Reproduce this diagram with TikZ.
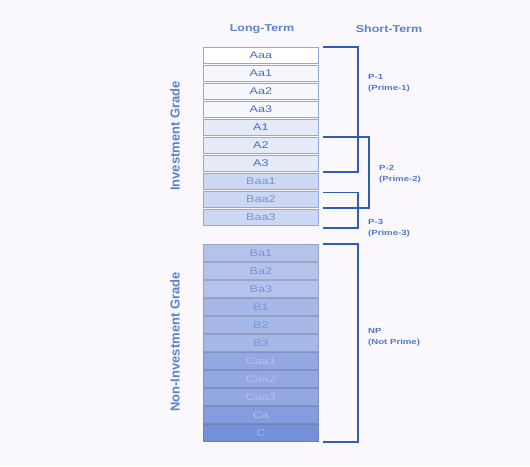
\documentclass[tikz,border=0pt]{standalone}
\usepackage{fontspec}
\setmainfont{Liberation Sans}
\newcommand{\wrow}[1]{\scalebox{1.3}[1]{#1}}
\newcommand{\wbr}[1]{\scalebox{1.3}[1]{#1}}
\newcommand{\whdr}[1]{\scalebox{1.25}[1]{#1}}
\definecolor{bg}{HTML}{FAF8FC}
\definecolor{brk}{HTML}{2E5DB2}
\definecolor{hdr}{HTML}{5A82D2}
\definecolor{lbl}{HTML}{5079CC}
\definecolor{edge}{HTML}{8FA8E0}
\definecolor{cA}{HTML}{FFFFFF}
\definecolor{cB}{HTML}{F5F7FD}
\definecolor{cC}{HTML}{E4EAF8}
\definecolor{cD}{HTML}{CCD7F2}
\definecolor{cE}{HTML}{B4C3EC}
\definecolor{cF}{HTML}{A6B8E8}
\definecolor{cG}{HTML}{93A8E2}
\definecolor{cH}{HTML}{859CDE}
\definecolor{cI}{HTML}{7490D8}
\definecolor{tA}{HTML}{4A70C4}
\definecolor{tB}{HTML}{7893D6}
\definecolor{tC}{HTML}{7B93D6}
\definecolor{tD}{HTML}{7F96D8}
\definecolor{tE}{HTML}{B0C0EC}
\definecolor{tF}{HTML}{A3B5E8}
\tikzset{
  row/.style={draw=edge, line width=0.8pt, minimum width=115pt, minimum height=16pt,
    inner sep=0pt, font=\fontsize{9.7}{10}\selectfont, anchor=north west},
  lrow/.style={row, minimum height=17pt, draw=#1!80!black!90!white},
  brline/.style={draw=brk, line width=1.8pt},
  hdrtext/.style={text=hdr, font=\bfseries\fontsize{10}{11}\selectfont},
  sidetext/.style={text=hdr, font=\bfseries\fontsize{13}{14}\selectfont, rotate=90},
  brtext/.style={text=lbl, font=\bfseries\fontsize{7.4}{11.5}\selectfont, anchor=west, align=left, inner sep=0pt}
}
\begin{document}
\begin{tikzpicture}[x=1pt,y=-1pt]
\fill[bg] (0,0) rectangle (530,466);
\useasboundingbox (0,0) rectangle (530,466);

% headers
\node[hdrtext] (hl) at (262,29) {\whdr{Long-Term}};
\node[hdrtext] (hs) at (389,29) {\whdr{Short-Term}};
\node[sidetext] (ig) at (175,136) {Investment Grade};
\node[sidetext] (nig) at (175,342) {Non-Investment Grade};

% investment grade rows
\node[row, fill=cA, text=tA] (Aaa)  at (203,47)  {\wrow{Aaa}};
\node[row, fill=cB, text=tA] (Aa1)  at (203,65)  {\wrow{Aa1}};
\node[row, fill=cB, text=tA] (Aa2)  at (203,83)  {\wrow{Aa2}};
\node[row, fill=cB, text=tA] (Aa3)  at (203,101) {\wrow{Aa3}};
\node[row, fill=cC, text=tA] (A1)   at (203,119) {\wrow{A1}};
\node[row, fill=cC, text=tA] (A2)   at (203,137) {\wrow{A2}};
\node[row, fill=cC, text=tA] (A3)   at (203,155) {\wrow{A3}};
\node[row, fill=cD, text=tB] (Baa1) at (203,173) {\wrow{Baa1}};
\node[row, fill=cD, text=tB] (Baa2) at (203,191) {\wrow{Baa2}};
\node[row, fill=cD, text=tB] (Baa3) at (203,209) {\wrow{Baa3}};

% non-investment grade rows
\node[lrow=cE, fill=cE, text=tC] (Ba1)  at (203,244) {\wrow{Ba1}};
\node[lrow=cE, fill=cE, text=tC] (Ba2)  at (203,262) {\wrow{Ba2}};
\node[lrow=cE, fill=cE, text=tC] (Ba3)  at (203,280) {\wrow{Ba3}};
\node[lrow=cF, fill=cF, text=tD] (B1)   at (203,298) {\wrow{B1}};
\node[lrow=cF, fill=cF, text=tD] (B2)   at (203,316) {\wrow{B2}};
\node[lrow=cF, fill=cF, text=tD] (B3)   at (203,334) {\wrow{B3}};
\node[lrow=cG, fill=cG, text=tE] (Caa1) at (203,352) {\wrow{Caa1}};
\node[lrow=cG, fill=cG, text=tE] (Caa2) at (203,370) {\wrow{Caa2}};
\node[lrow=cG, fill=cG, text=tE] (Caa3) at (203,388) {\wrow{Caa3}};
\node[lrow=cH, fill=cH, text=tE] (Ca)   at (203,406) {\wrow{Ca}};
\node[lrow=cI, fill=cI, text=tF] (C)    at (203,424) {\wrow{C}};

% brackets
\draw[brline] ([xshift=4pt]Aaa.north east) -- ++(35,0) |- ([xshift=4pt]A3.south east);
\draw[brline] ([xshift=4pt]A2.north east) -- ++(46,0) |- ([xshift=4pt]Baa2.south east);
\draw[brline] ([xshift=4pt,yshift=-1.5pt]Baa2.north east) -- ++(35,0) |- ([xshift=4pt,yshift=-2pt]Baa3.south east);
\draw[brline] ([xshift=4pt]Ba1.north east) -- ++(35,0) |- ([xshift=4pt]C.south east);

% bracket labels
\node[brtext] (p1) at (368,83) {\wbr{P-1}\\\wbr{(Prime-1)}};
\node[brtext] (p2) at (379,174) {\wbr{P-2}\\\wbr{(Prime-2)}};
\node[brtext] (p3) at (368,228) {\wbr{P-3}\\\wbr{(Prime-3)}};
\node[brtext] (np) at (368,337) {\wbr{NP}\\\wbr{(Not Prime)}};
\end{tikzpicture}
\end{document}
